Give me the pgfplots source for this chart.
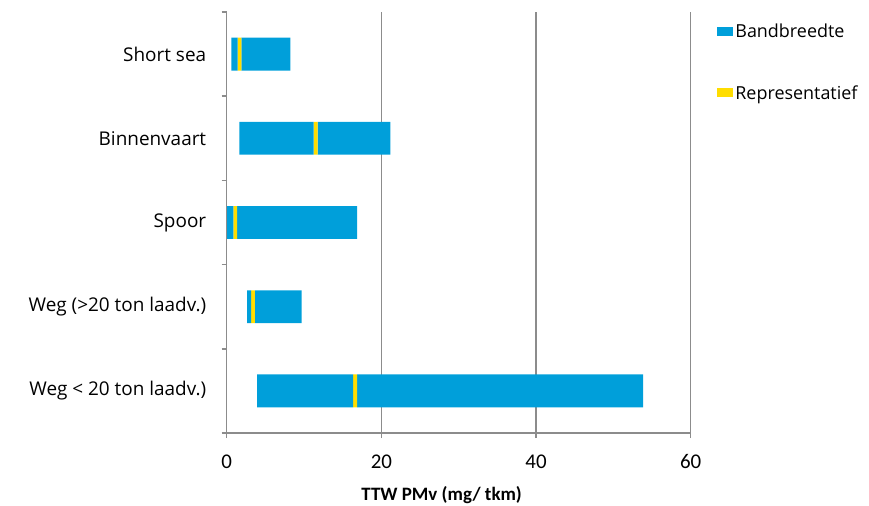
\documentclass[border=0pt]{standalone}
\usepackage{pgfplots}
\pgfplotsset{compat=1.18}
\usepackage{fontspec}
\setmainfont{Carlito}
\newfontfamily\osans{Open Sans}
\definecolor{bandblue}{HTML}{009FDA}
\definecolor{repyellow}{HTML}{FFDD00}
\definecolor{axgray}{HTML}{8C8C8C}
\begin{document}
\begin{tikzpicture}
\useasboundingbox (-226.7bp,-73bp) rectangle (642.3bp,433bp);
\begin{axis}[
  at={(0,0)}, anchor=south west,
  scale only axis, width=464bp, height=421bp,
  xbar stacked, bar width=0.39,
  xmin=0, xmax=60, ymin=-0.5, ymax=4.5,
  axis lines*=left,
  axis line style={-, draw=axgray, line width=1.5bp},
  xtick={0,20,40,60},
  xmajorgrids, grid style={axgray, line width=1.5bp},
  ytick={0,1,2,3,4},
  yticklabels={Weg < 20 ton laadv.), Weg (>20 ton laadv.), Spoor, Binnenvaart, Short sea},
  minor ytick={-0.5,0.5,1.5,2.5,3.5,4.5},
  major y tick style={draw=none},
  tick align=outside,
  major tick length=5bp, minor tick length=5bp,
  tick style={axgray, line width=1.5bp},
  /pgf/number format/assume math mode=true,
  xticklabel style={font=\fontsize{21}{21}\selectfont, yshift=-13bp},
  yticklabel style={font=\osans\fontsize{19}{19}\selectfont, xshift=-12bp},
  xlabel={TTW PMv (mg/ tkm)},
  xlabel style={font=\bfseries\fontsize{19}{19}\selectfont, at={(rel axis cs:0.5,0)}, anchor=center, yshift=-62bp, xshift=-17bp},
  legend style={at={(rel axis cs:1,1)}, anchor=north west, xshift=33.5bp, yshift=-10bp, draw=none, fill=none,
    font=\osans\fontsize{18}{18}\selectfont, row sep=42bp, inner sep=0pt},
  legend cell align=left,
  legend image code/.code={\useasboundingbox (0bp,-4.5bp) rectangle (9bp,4.5bp); \fill[#1] (-7bp,-4.5bp) rectangle (5bp,4.5bp);},
]
\addplot[draw=none, fill=none, forget plot] coordinates {(0.6,4) (1.65,3) (0.05,2) (2.65,1) (3.95,0)};
\addplot[draw=none, fill=bandblue] coordinates {(0.8,4) (9.6,3) (0.8,2) (0.5,1) (12.4,0)};
\addlegendentry{Bandbreedte}
\addplot[draw=none, fill=repyellow] coordinates {(0.5,4) (0.5,3) (0.5,2) (0.5,1) (0.5,0)};
\addlegendentry{Representatief}
\addplot[draw=none, fill=bandblue, forget plot] coordinates {(6.35,4) (9.4,3) (15.5,2) (6.05,1) (37.0,0)};
\end{axis}
\end{tikzpicture}
\end{document}
